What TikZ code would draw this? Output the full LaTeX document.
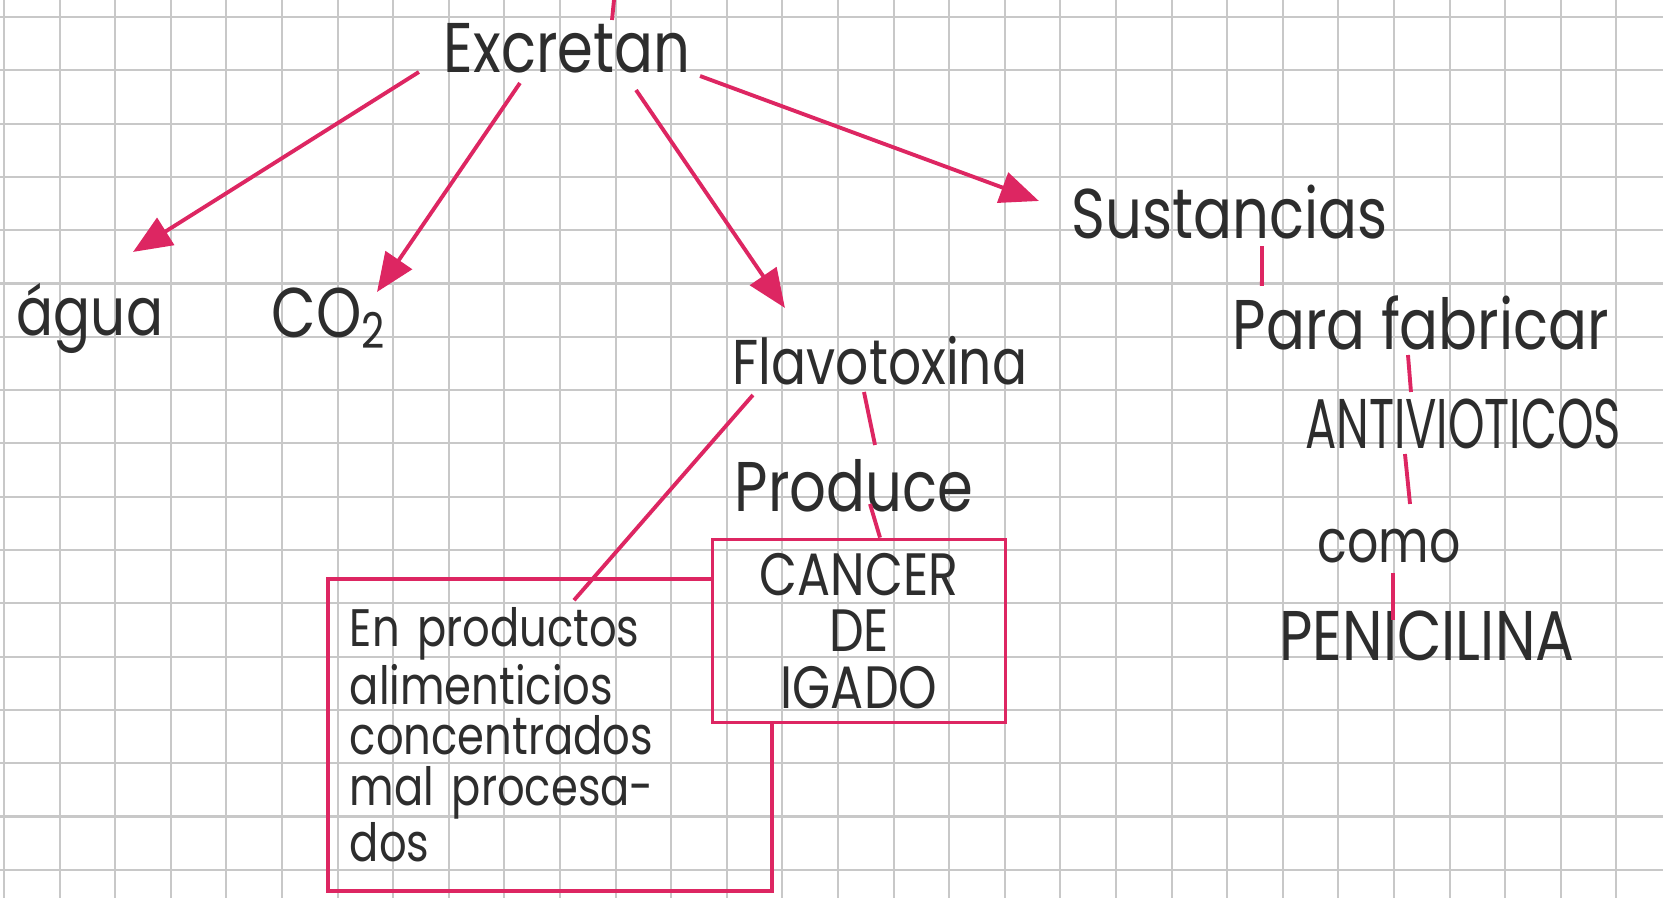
\documentclass[tikz,border=0pt]{standalone}
\usepackage{fontspec}
\setmainfont{Poppins}[FakeStretch=0.82]
\newfontfamily\narrowfont{Poppins}[FakeStretch=0.66]
\usetikzlibrary{arrows.meta}
\definecolor{pen}{RGB}{221,38,98}
\definecolor{ink}{RGB}{45,45,45}
\definecolor{paper}{RGB}{200,200,200}

\begin{document}
\begin{tikzpicture}
  [x=0.01cm,y=-0.01cm,
   every node/.style={text=ink,inner sep=1pt},
   arr/.style={pen,line width=1.1pt,-{Triangle[length=11pt,width=9pt]}},
   link/.style={pen,line width=1.1pt},
   boxed/.style={draw=pen,line width=1pt,inner sep=4pt}]
  \useasboundingbox (0,0) rectangle (1663,898);
  \fill[white] (0,0) rectangle (1663,898);
  % grid paper
  \foreach \i in {0,...,29}
    \draw[paper,line width=0.6pt] ({4+55.6*\i},0) -- ({4+55.6*\i},898);
  \foreach \j in {0,...,16}
    \draw[paper,line width=0.6pt] (0,{17+53.3*\j}) -- (1663,{17+53.3*\j});

  \node[font=\fontsize{20}{22}\selectfont] (exc) at (567,48) {Excretan};
  \node[font=\fontsize{19}{22}\selectfont] (agua) at (90,318) {água};
  \node[font=\fontsize{20}{22}\selectfont] (co2) at (329,318) {CO\textsubscript{2}};
  \node[font=\fontsize{18}{22}\selectfont] (flavo) at (880,361) {Flavotoxina};
  \node[font=\fontsize{20}{22}\selectfont] (sust) at (1230,212) {Sustancias};
  \node[font=\fontsize{20}{22}\selectfont] (para) at (1421,323) {Para fabricar};
  \node[font=\narrowfont\fontsize{20}{22}\selectfont] (anti) at (1463,424) {ANTIVIOTICOS};
  \node[font=\fontsize{17}{22}\selectfont] (como) at (1389,546) {como};
  \node[font=\fontsize{20}{22}\selectfont] (peni) at (1427,636) {PENICILINA};
  \node[font=\fontsize{20}{22}\selectfont] (prod) at (854,486) {Produce};
  \node[boxed,align=center,minimum width=2.93cm,minimum height=1.77cm,
        font=\fontsize{17}{16}\selectfont] (cancer) at (859,631) {CANCER\\DE\\IGADO};
  \node[inner sep=0pt,minimum width=4.42cm,minimum height=3.1cm,text width=4cm,
        align=left,font=\fontsize{15}{14.4}\selectfont] (en) at (550,735)
        {En productos\\alimenticios\\concentrados\\mal procesa-\\dos};
  \draw[pen,line width=1pt] (cancer.west |- en.north) -- (en.north west)
    -- (en.south west) -- (en.south east) -- (en.east |- cancer.south);

  \coordinate (up) at (614,0);
  \draw[link] (up) -- ([xshift=0.45cm,yshift=0.28cm]exc.center);
  \draw[arr] ([xshift=-1.48cm,yshift=-0.24cm]exc.center) -- ([xshift=0.43cm,yshift=0.66cm]agua.center);
  \draw[arr] ([xshift=-0.47cm,yshift=-0.35cm]exc.center) -- ([xshift=0.48cm,yshift=0.26cm]co2.center);
  \draw[arr] ([xshift=0.69cm,yshift=-0.42cm]exc.center) -- ([xshift=-0.95cm,yshift=0.53cm]flavo.center);
  \draw[arr] ([xshift=1.33cm,yshift=-0.28cm]exc.center) -- ([xshift=-1.91cm,yshift=0.11cm]sust.center);

  \draw[link] ([xshift=-1.27cm,yshift=-0.34cm]flavo.center) -- ([xshift=0.24cm,yshift=-0.21cm]en.north);
  \draw[link] ([xshift=-0.16cm,yshift=-0.31cm]flavo.center) -- ([xshift=0.21cm,yshift=0.41cm]prod.center);
  \draw[link] ([xshift=0.16cm,yshift=-0.18cm]prod.center) -- ([xshift=0.21cm]cancer.north);

  \draw[link] ([xshift=0.32cm,yshift=-0.34cm]sust.center) -- ([xshift=-1.59cm,yshift=0.37cm]para.center);
  \draw[link] ([xshift=-0.13cm,yshift=-0.32cm]para.center) -- ([xshift=-0.52cm,yshift=0.32cm]anti.center);
  \draw[link] ([xshift=-0.58cm,yshift=-0.30cm]anti.center) -- ([xshift=0.21cm,yshift=0.42cm]como.center);
  \draw[link] ([xshift=0.04cm,yshift=-0.27cm]como.center) -- ([xshift=-0.34cm,yshift=0.16cm]peni.center);
\end{tikzpicture}
\end{document}
